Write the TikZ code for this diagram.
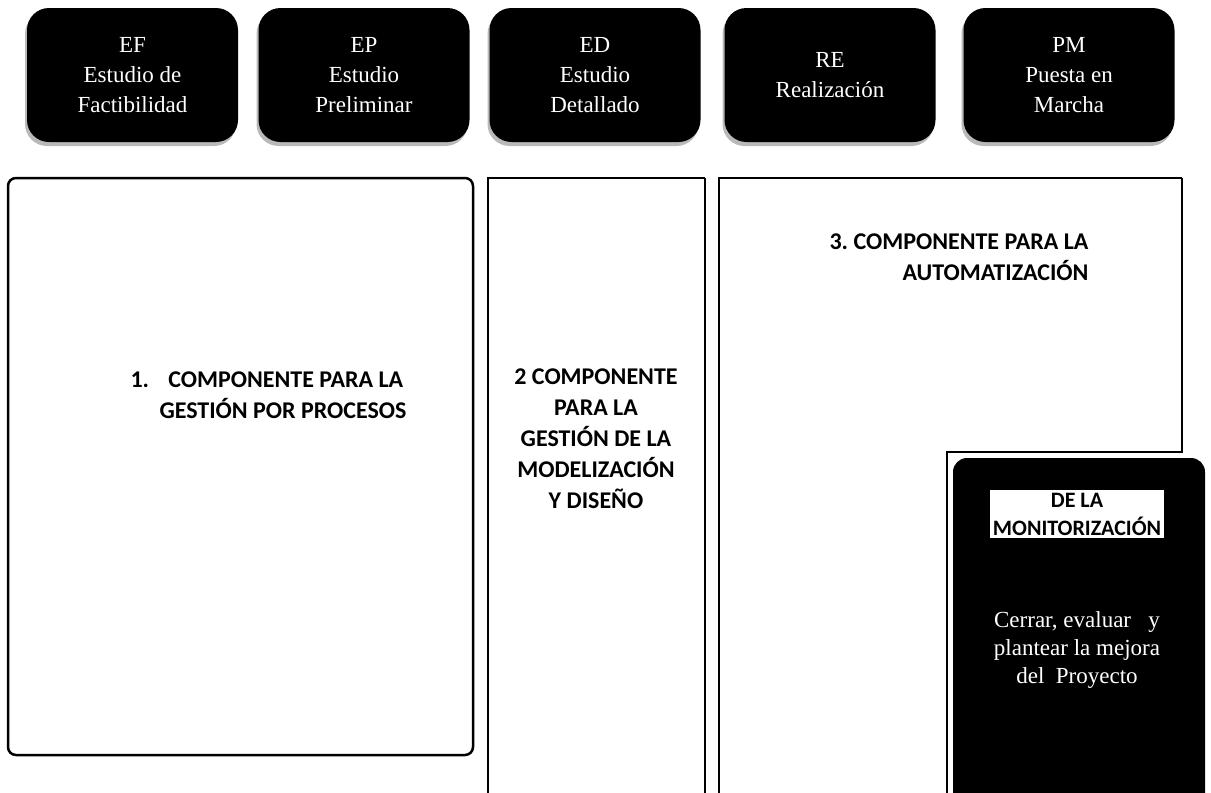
\documentclass[tikz,border=0pt]{standalone}
\usepackage{fontspec}
\setmainfont{Liberation Serif}
\newfontfamily\compfont{Carlito Bold}
\usetikzlibrary{shadows}

\begin{document}
\begin{tikzpicture}[x=1pt,y=-1pt,
  phase/.style={fill=black,text=white,rounded corners=22pt,minimum width=211pt,minimum height=134pt,
    align=center,font=\fontsize{23}{30}\selectfont,
    drop shadow={shadow xshift=-2pt,shadow yshift=-4pt,fill=gray!55,opacity=1}},
  comp/.style={font=\compfont\fontsize{24}{31}\selectfont},
  frame/.style={line width=2.5pt},
  thinframe/.style={line width=1.5pt}]
\useasboundingbox (0,0) rectangle (1211,793);
\clip (0,0) rectangle (1211,793);
% fases
\node[phase] (ef) at (132.5,75) {EF\\Estudio de\\Factibilidad};
\node[phase] (ep) at (364,75) {EP\\Estudio\\Preliminar};
\node[phase] (ed) at (595,75) {ED\\Estudio\\Detallado};
\node[phase] (re) at (830,75) {RE\\Realización};
\node[phase] (pm) at (1069,75) {PM\\Puesta en\\Marcha};
% componentes
\draw[frame,rounded corners=8pt](8,178) rectangle (473,755);
\draw[frame](488,800)--(488,178)--(705,178);
\draw[thinframe](705,178)--(705,800);
\draw[frame](719,800)--(719,178)--(1182,178);
\draw[thinframe](1182,178)--(1182,452)--(947,452)--(947,800);
\fill[black,rounded corners=14pt](953,458) rectangle (1205,830);
\node[comp,anchor=west,align=left] (c1) at (127,395) {1.\hspace{0.8em}COMPONENTE PARA LA\\\hspace*{29pt}GESTIÓN POR PROCESOS};
\node[comp,align=center] (c2) at (596,439) {2 COMPONENTE\\PARA LA\\GESTIÓN DE LA\\MODELIZACIÓN\\Y DISEÑO};
\node[comp,anchor=east,align=right] (c3) at (1092,257) {3.\ COMPONENTE PARA LA\\AUTOMATIZACIÓN};
\node[comp,fill=white,text=black,align=center,inner sep=3pt,font=\compfont\fontsize{22}{28}\selectfont] (c4) at (1077,514) {DE LA\\MONITORIZACIÓN};
\node[text=white,align=center,font=\fontsize{23}{28}\selectfont] (cerrar) at (1077,650) {Cerrar, evaluar\ \ \ y\\plantear la mejora\\del\ \ Proyecto};
\end{tikzpicture}
\end{document}
